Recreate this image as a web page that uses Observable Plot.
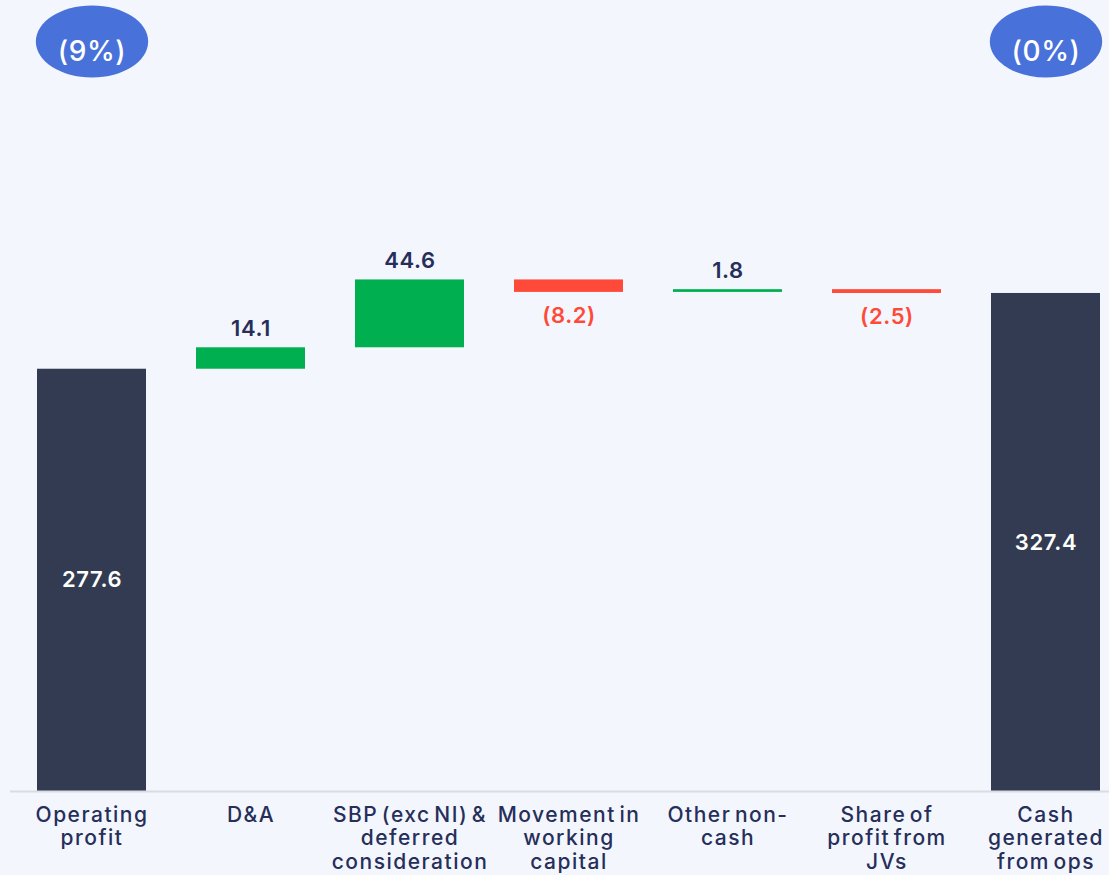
<!DOCTYPE html>
<html>
<head>
<meta charset="utf-8">
<script src="https://cdn.jsdelivr.net/npm/d3@7"></script>
<script src="https://cdn.jsdelivr.net/npm/@observablehq/plot@0.6"></script>
<style>
  html, body { margin: 0; padding: 0; background: #f3f6fd; }
  #chart svg { display: block; }
  #chart svg g[aria-label="x-axis tick label"] text { letter-spacing: 1.5px; word-spacing: -3.5px; }
  #chart svg g[aria-label="text"] text { letter-spacing: 0.6px; }
</style>
</head>
<body>
<div id="chart"></div>
<script>
const categories = [
  "Operating profit",
  "D&A",
  "SBP (exc NI) & deferred consideration",
  "Movement in working capital",
  "Other non-cash",
  "Share of profit from JVs",
  "Cash generated from ops"
];
const tickLabels = [
  "Operating\nprofit",
  "D&A",
  "SBP (exc NI) &\ndeferred\nconsideration",
  "Movement in\nworking\ncapital",
  "Other non-\ncash",
  "Share of\nprofit from\nJVs",
  "Cash\ngenerated\nfrom ops"
];
const values = [277.6, 14.1, 44.6, -8.2, 1.8, -2.5, 327.4];
const isTotal = [true, false, false, false, false, false, true];
const badgeCategories = ["Operating profit", "Cash generated from ops"];
const badgeLabels = ["(9%)", "(0%)"];

// waterfall table
let run = 0;
const rows = categories.map((cat, i) => {
  const v = values[i];
  let y1, y2;
  if (isTotal[i]) { y1 = 0; y2 = v; run = v; }
  else { y1 = run; y2 = run + v; run = y2; }
  return {cat, value: v, y1, y2, kind: isTotal[i] ? "total" : (v >= 0 ? "up" : "down")};
});
const badges = badgeCategories.map((cat, i) => ({cat, label: badgeLabels[i]}));

const fmt = v => v < 0 ? `(${Math.abs(v).toFixed(1)})` : v.toFixed(1);

// ellipse symbol
const ellipse = {
  draw(ctx, size) {
    const r = Math.sqrt(size / Math.PI);
    const rx = r * 1.56, ry = r, k = 0.5522847;
    ctx.moveTo(rx, 0);
    ctx.bezierCurveTo(rx, ry * k, rx * k, ry, 0, ry);
    ctx.bezierCurveTo(-rx * k, ry, -rx, ry * k, -rx, 0);
    ctx.bezierCurveTo(-rx, -ry * k, -rx * k, -ry, 0, -ry);
    ctx.bezierCurveTo(rx * k, -ry, rx, -ry * k, rx, 0);
    ctx.closePath();
  }
};

const navy = "#262e5a";
const FONT = "Inter, 'Open Sans', sans-serif";

const plot = Plot.plot({
  width: 1109,
  height: 875,
  marginLeft: 36,
  marginRight: 8,
  marginTop: 0,
  marginBottom: 84,
  style: {background: "#f3f6fd", fontFamily: FONT, overflow: "visible"},
  x: {domain: categories, paddingInner: 0.316, paddingOuter: 0, label: null},
  y: {domain: [0, 520], axis: null},
  color: {domain: ["total", "up", "down"], range: ["#323b51", "#00b050", "#ff4a3a"]},
  marks: [
    Plot.barY(rows, {x: "cat", y1: "y1", y2: "y2", fill: "kind"}),
    Plot.ruleY([0], {stroke: "#d9dce2", strokeWidth: 2, insetLeft: -26, insetRight: -8}),
    Plot.axisX({
      tickSize: 0,
      tickPadding: 13,
      fontSize: 21,
      fontWeight: 500,
      lineHeight: 1.14,
      fill: navy,
      tickFormat: d => tickLabels[categories.indexOf(d)],
      label: null
    }),
    Plot.text(rows.filter(d => d.kind === "total"), {
      x: "cat", y: d => d.y2 / 2, text: d => fmt(d.value),
      fill: "white", fontSize: 22, fontWeight: 600
    }),
    Plot.text(rows.filter(d => d.kind === "up"), {
      x: "cat", y: "y2", text: d => fmt(d.value),
      lineAnchor: "bottom", dy: -12,
      fill: navy, fontSize: 22, fontWeight: 600
    }),
    Plot.text(rows.filter(d => d.kind === "down"), {
      x: "cat", y: "y2", text: d => fmt(d.value),
      lineAnchor: "top", dy: 15,
      fill: "#ff4a3a", fontSize: 22, fontWeight: 600
    }),
    Plot.dot(badges, {
      x: "cat", frameAnchor: "top", dy: 41, r: 36,
      symbol: ellipse, fill: "#4872d9", stroke: null
    }),
    Plot.text(badges, {
      x: "cat", frameAnchor: "top", dy: 41, text: "label",
      fill: "white", fontSize: 28, fontWeight: 500
    })
  ]
});
document.getElementById("chart").appendChild(plot);
</script>
</body>
</html>
